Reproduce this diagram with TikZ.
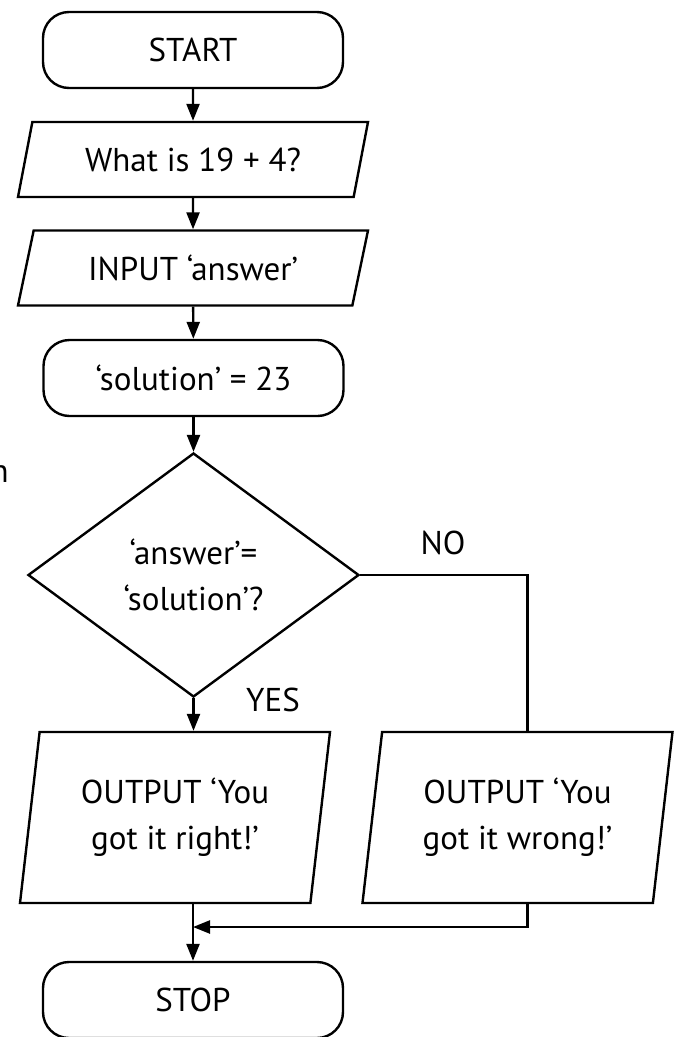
\documentclass[tikz,border=0pt]{standalone}
\usepackage{fontspec}
\setmainfont{PT Sans}
\usetikzlibrary{arrows.meta, shapes.geometric, calc}

\tikzset{
  terminal/.style={draw, rounded corners=26pt, minimum width=300pt,
                   minimum height=76pt, inner sep=0pt},
  io/.style={draw, trapezium, trapezium left angle=59, trapezium right angle=121,
             trapezium stretches body, minimum width=350pt, minimum height=75pt,
             inner sep=0pt, align=center},
  outbox/.style={io, trapezium left angle=76, trapezium right angle=104,
                 minimum width=310pt, minimum height=171pt},
  decision/.style={draw, diamond, aspect=1.36, minimum width=331pt,
                   minimum height=244pt, inner sep=0pt, align=center},
  flow/.style={-{Triangle[length=17pt,width=13pt]}}
}

\begin{document}
\begin{tikzpicture}[x=1pt, y=-1pt, line width=2.4pt,
                    font=\fontsize{33}{46}\selectfont]
  \useasboundingbox (0,0) rectangle (676,1037);

  % boxes
  \node[terminal] (start) at (193,50) {START};
  \node[io] (ask) at (193,159.5) {What is 19 + 4?};
  \node[io] (inp) at (193,268) {INPUT ‘answer’};
  \node[terminal] (sol) at (193.5,378) {‘solution’ = 23};
  \node[decision] (dec) at (193.5,575) {‘answer’=\\‘solution’?};
  \node[outbox] (right) at (175,817.5) {OUTPUT ‘You\\got it right!’};
  \node[outbox] (wrong) at (517.5,817.5) {OUTPUT ‘You\\got it wrong!’};
  \node[terminal] (stop) at (193,1000) {STOP};

  % labels
  \node (no) at (443,543) {NO};
  \node (yes) at (273,700) {YES};
  \node[anchor=east, inner sep=0pt] (cut) at (10,474) {n};

  \coordinate (merge) at (193,927);

  % connectors
  \draw[flow] (start) -- (ask);
  \draw[flow] (ask) -- (inp);
  \draw[flow] (inp) -- (sol);
  \draw[flow] (sol) -- (dec);
  \draw[flow] (dec.south) -- (dec.south |- right.north);
  \draw (dec.east) -| (wrong.top side);
  \draw[flow] (wrong.top side |- wrong.south) |- (merge);
  \draw[flow] (merge |- right.south) -- (stop);
\end{tikzpicture}
\end{document}
